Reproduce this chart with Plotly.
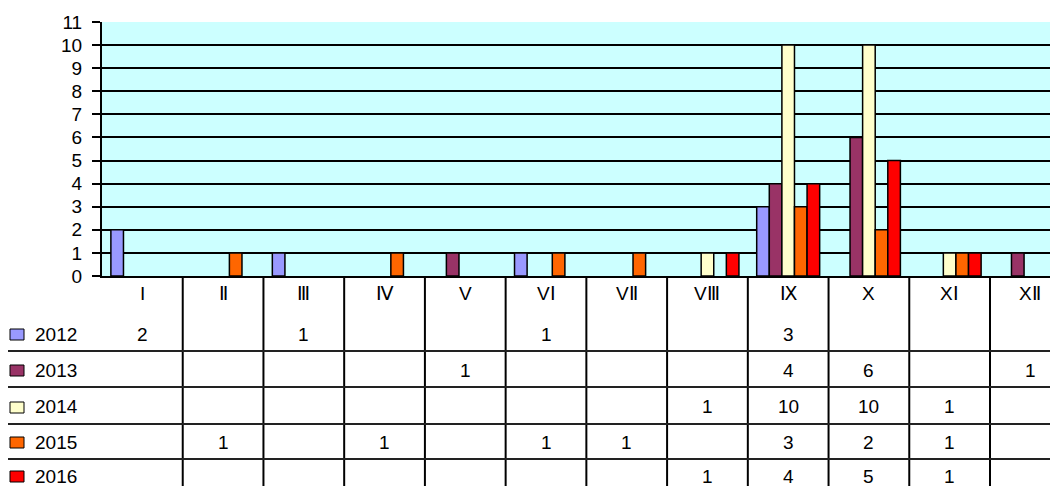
import plotly.graph_objects as go

# ---- data ----
months = ["I", "Ⅱ", "Ⅲ", "Ⅳ", "V", "VⅠ", "VⅡ", "VⅢ", "Ⅸ", "X", "XⅠ", "XⅡ"]
years = ["2012", "2013", "2014", "2015", "2016"]
v2012 = [2, None, 1, None, None, 1, None, None, 3, None, None, None]
v2013 = [None, None, None, None, 1, None, None, None, 4, 6, None, 1]
v2014 = [None, None, None, None, None, None, None, 1, 10, 10, 1, None]
v2015 = [None, 1, None, 1, None, 1, 1, None, 3, 2, 1, None]
v2016 = [None, None, None, None, None, None, None, 1, 4, 5, 1, None]
series = [v2012, v2013, v2014, v2015, v2016]
colors = ["#9999FF", "#993366", "#FFFFCC", "#FF6600", "#FF0000"]

W, H = 1058, 486
OFF = 8                      # page body margin offset
ML, MT = 102 - OFF, 22 - OFF
PW, PH = W - ML, H - MT
CAT_W = (990 - 102) / 11.0   # pixel width of one month category
FONT = dict(family="Liberation Sans, Arial, sans-serif", size=19, color="black")


def py(p):  # screen pixel y -> paper y
    return (H - (p - OFF)) / PH


def px(p):  # screen pixel x -> paper x
    return ((p - OFF) - ML) / PW


fig = go.Figure()
idx = list(range(len(months)))
for yr, vals, col in zip(years, series, colors):
    fig.add_trace(go.Bar(
        x=idx, y=vals, name=yr,
        marker=dict(color=col, line=dict(color="black", width=1.5)),
        showlegend=False,
    ))

shapes = []
annotations = []

# vertical category separators through the data table
for i in range(len(months) - 1):
    shapes.append(dict(type="line", xref="x", yref="paper",
                       x0=i + 0.5, x1=i + 0.5, y0=py(H + 2), y1=py(276),
                       line=dict(color="black", width=2)))

# horizontal row separators
for ly in [351, 387, 424, 459]:
    shapes.append(dict(type="line", xref="paper", yref="paper",
                       x0=px(5), x1=px(W + 5), y0=py(ly), y1=py(ly),
                       line=dict(color="#222222", width=2)))

# header row (month labels)
for i, m in enumerate(months):
    annotations.append(dict(x=i, y=py(293), xref="x", yref="paper",
                            text=m, showarrow=False, font=FONT,
                            xanchor="center", yanchor="middle"))

row_y = [334, 370, 407, 442, 476]
for yr, vals, col, ry in zip(years, series, colors, row_y):
    # legend key
    shapes.append(dict(type="rect", xref="paper", yref="paper",
                       x0=px(10), x1=px(24), y0=py(ry + 6), y1=py(ry - 5),
                       fillcolor=col, line=dict(color="black", width=1)))
    annotations.append(dict(x=px(33), y=py(ry), xref="paper", yref="paper",
                            text=yr, showarrow=False, font=FONT,
                            xanchor="left", yanchor="middle"))
    for i, v in enumerate(vals):
        if v is not None:
            annotations.append(dict(x=i, y=py(ry), xref="x", yref="paper",
                                    text=str(v), showarrow=False, font=FONT,
                                    xanchor="center", yanchor="middle"))

fig.update_layout(
    template="none",
    width=W, height=H,
    margin=dict(l=ML, r=0, t=MT, b=0, pad=0),
    paper_bgcolor="white",
    plot_bgcolor="#CCFFFF",
    barmode="group",
    bargap=0.22,
    bargroupgap=0,
    font=FONT,
    shapes=shapes,
    annotations=annotations,
    xaxis=dict(range=[-0.5, -0.5 + PW / CAT_W], showticklabels=False,
               showgrid=False, zeroline=False, showline=True,
               linecolor="black", linewidth=2, ticks="", automargin=False),
    yaxis=dict(domain=[py(276), 1], range=[0, 11], dtick=1, tick0=0,
               showgrid=True, gridcolor="black", gridwidth=1.5,
               zeroline=False, showline=True, linecolor="black", linewidth=2,
               ticks="outside", ticklen=8, tickwidth=1.5, tickcolor="black",
               ticklabelstandoff=6, tickfont=FONT, automargin=False),
)

fig.write_html("out.html")
